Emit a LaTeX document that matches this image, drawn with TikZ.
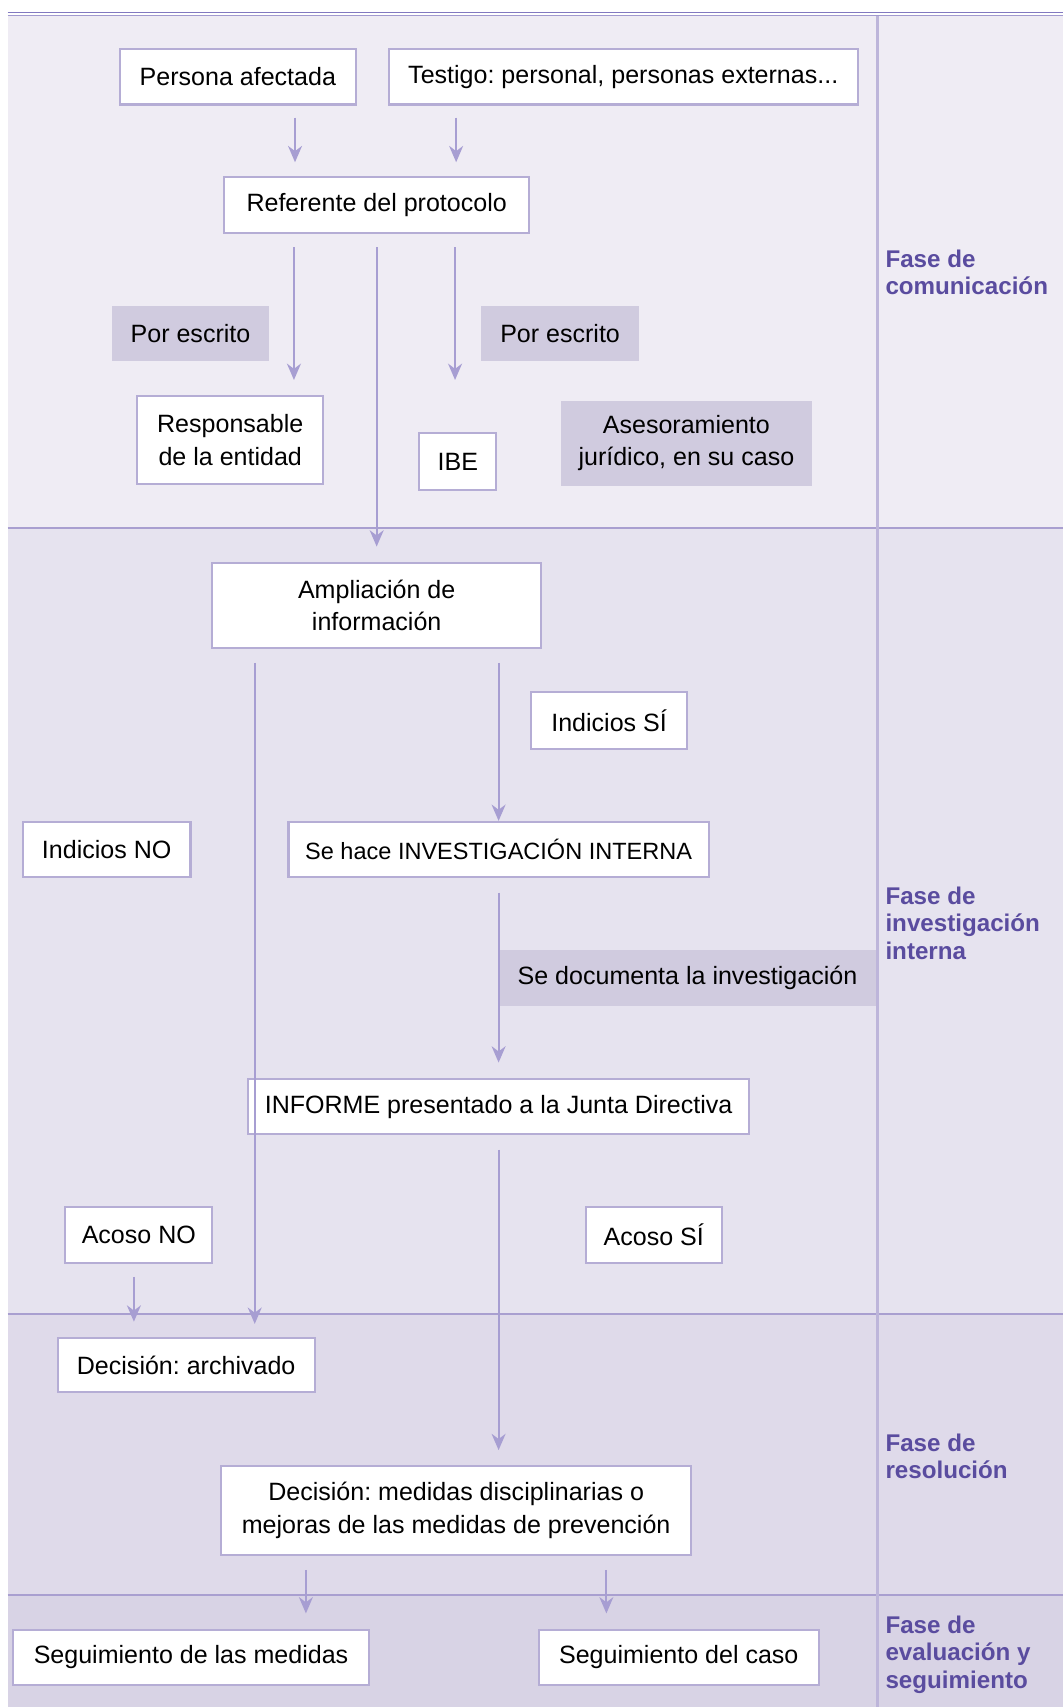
\documentclass[tikz,border=0pt]{standalone}
\usepackage{fontspec}
\setmainfont{Liberation Sans}
\usetikzlibrary{arrows.meta}
\definecolor{bgA}{HTML}{EFECF4}
\definecolor{bgB}{HTML}{E6E3EF}
\definecolor{bgC}{HTML}{DFDAEA}
\definecolor{bgD}{HTML}{D8D3E5}
\definecolor{grayfill}{HTML}{D0CBDF}
\definecolor{bordercol}{HTML}{B5ADD5}
\definecolor{arrowcol}{HTML}{A79ED2}
\definecolor{linecol}{HTML}{A99FD0}
\definecolor{divcol}{HTML}{BDB5DA}
\definecolor{fasecol}{HTML}{5A4C9F}
\definecolor{topA}{HTML}{8279C0}
\definecolor{topB}{HTML}{A199CF}
\frenchspacing
\begin{document}
\begin{tikzpicture}[x=0.5pt,y=-0.5pt,
  txt/.style={font=\fontsize{11.5pt}{15pt}\selectfont\frenchspacing, align=center, inner sep=0pt},
  wbox/.style={txt, draw=bordercol, line width=0.95pt, fill=white},
  gbox/.style={txt, fill=grayfill},
  fase/.style={font=\fontsize{11.1pt}{12.5pt}\selectfont\bfseries, text=fasecol, align=left, anchor=west, inner sep=0pt},
  arr/.style={draw=arrowcol, line width=1pt, -{Stealth[length=7.5pt,width=6.4pt,inset=2.4pt]}},
  sz/.style 2 args={minimum width=#1*0.5pt, minimum height=#2*0.5pt}
]
\useasboundingbox (0,0) rectangle (976,1568);
% backgrounds
\fill[bgA] (7,14) rectangle (976,485);
\fill[bgB] (7,485) rectangle (976,1207);
\fill[bgC] (7,1207) rectangle (976,1465);
\fill[bgD] (7,1465) rectangle (976,1568);
\draw[topA, line width=0.6pt] (7,11.3) -- (976,11.3);
\draw[topB, line width=0.6pt] (7,14) -- (976,14);
\draw[linecol, line width=1pt] (7,485) -- (976,485);
\draw[linecol, line width=1pt] (7,1207) -- (976,1207);
\draw[linecol, line width=1pt] (7,1465) -- (976,1465);
\draw[divcol, line width=1pt] (806,14.5) -- (806,1568);

% phase labels
\node[fase] (f1) at (813,250.5) {Fase de\\comunicación};
\node[fase] (f2) at (813,848) {Fase de\\investigación\\interna};
\node[fase] (f3) at (813,1337.5) {Fase de\\resolución};
\node[fase] (f4) at (813,1520) {Fase de\\evaluación y\\seguimiento};

% boxes
\node[wbox, sz={217}{51}] (pa) at (218.5,70.5) {Persona afectada};
\node[wbox, sz={431}{51}] (tes) at (572.5,70.5) {Testigo: personal, personas externas...};
\node[wbox, sz={280}{51}] (ref) at (346,188.5) {Referente del protocolo};
\node[gbox, sz={144}{51}] (pe1) at (175,306.5) {Por escrito};
\node[gbox, sz={145}{51}] (pe2) at (514.5,306.5) {Por escrito};
\node[wbox, sz={171}{81}] (resp) at (211.5,404.5) {Responsable\\de la entidad};
\node[wbox, sz={71}{52}] (ibe) at (420.5,424) {IBE};
\node[gbox, sz={231}{78}] (ase) at (630.5,407) {Asesoramiento\\jurídico, en su caso};
\node[wbox, sz={302}{78}] (amp) at (346,556) {Ampliación de\\información};
\node[wbox, sz={143}{52}] (isi) at (559.5,662) {Indicios SÍ};
\node[wbox, sz={154}{51}] (ino) at (98,780.5) {Indicios NO};
\node[wbox, sz={386}{51}, font=\fontsize{10.8pt}{15pt}\selectfont] (seh) at (458,780.5) {Se hace INVESTIGACIÓN INTERNA};
\node[gbox, sz={347}{51}] (doc) at (631.5,898.5) {Se documenta la investigación};
\node[wbox, sz={460}{51}] (inf) at (458,1016.5) {INFORME presentado a la Junta Directiva};
\node[wbox, sz={135}{51}] (ano) at (127.5,1134.5) {Acoso NO};
\node[wbox, sz={125}{51}] (asi) at (600.5,1134.5) {Acoso SÍ};
\node[wbox, sz={236}{50}] (arc) at (171,1254) {Decisión: archivado};
\node[wbox, sz={432}{81}] (med) at (419,1387.5) {Decisión: medidas disciplinarias o\\mejoras de las medidas de prevención};
\node[wbox, sz={327}{51}] (seg1) at (175.5,1522.5) {Seguimiento de las medidas};
\node[wbox, sz={257}{51}] (seg2) at (623.5,1522.5) {Seguimiento del caso};

% x positions of the connectors
\coordinate (x271) at (271,0);
\coordinate (x419) at (419,0);
\coordinate (x270) at (270,0);
\coordinate (x346) at (346,0);
\coordinate (x418) at (418,0);
\coordinate (x234) at (234,0);
\coordinate (x458) at (458,0);
\coordinate (x123) at (123,0);
\coordinate (x281) at (281,0);
\coordinate (x557) at (557,0);

% connectors
\draw[arr, shorten <=5.5pt, shorten >=6.5pt] (pa.south -| x271) -- (ref.north -| x271);
\draw[arr, shorten <=5.5pt, shorten >=6.5pt] (tes.south -| x419) -- (ref.north -| x419);
\draw[arr, shorten <=6pt, shorten >=7pt] (ref.south -| x270) -- (resp.north -| x270);
\draw[arr, shorten <=6pt, shorten >=7pt] (ref.south -| x346) -- (amp.north -| x346);
\draw[arr, shorten <=6pt, shorten >=24pt] (ref.south -| x418) -- (ibe.north -| x418);
\draw[arr, shorten <=6.5pt, shorten >=6pt] (amp.south -| x234) -- (arc.north -| x234);
\draw[arr, shorten <=6.5pt] (amp.south -| x458) -- (seh.north -| x458);
\draw[arr, shorten <=6.5pt, shorten >=7pt] (seh.south -| x458) -- (inf.north -| x458);
\draw[arr, shorten <=6.5pt, shorten >=7pt] (inf.south -| x458) -- (med.north -| x458);
\draw[arr, shorten <=6pt, shorten >=7pt] (ano.south -| x123) -- (arc.north -| x123);
\draw[arr, shorten <=6.5pt, shorten >=7pt] (med.south -| x281) -- (seg1.north -| x281);
\draw[arr, shorten <=6.5pt, shorten >=7pt] (med.south -| x557) -- (seg2.north -| x557);
\end{tikzpicture}
\end{document}
